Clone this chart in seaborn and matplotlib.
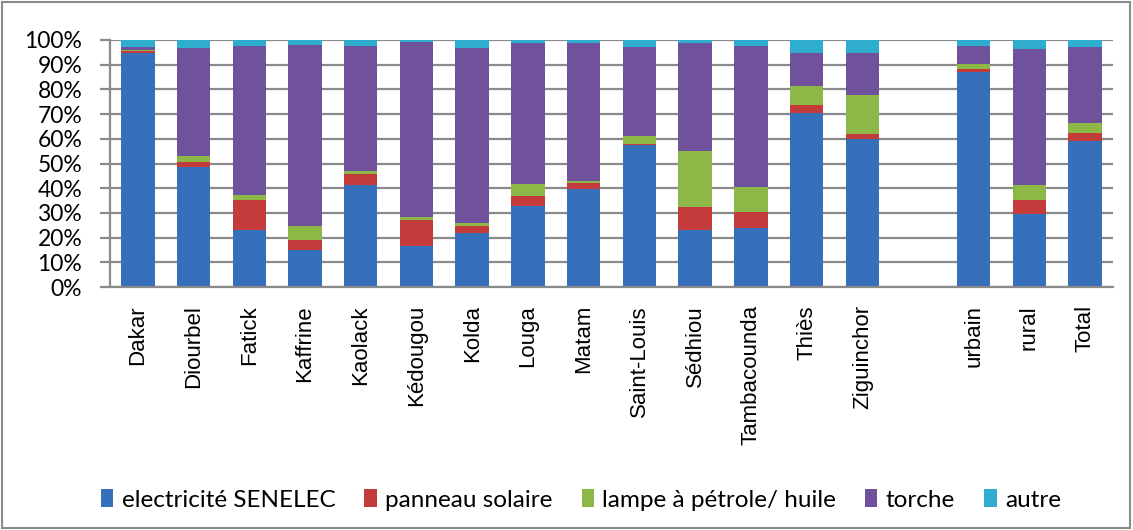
import numpy as np
import pandas as pd
import matplotlib
matplotlib.use("Agg")
import matplotlib.pyplot as plt
import seaborn as sns
from matplotlib.patches import Patch, Rectangle
from matplotlib.ticker import PercentFormatter

# categories (empty slot between regions and urbain/rural/Total)
regions = ['Dakar', 'Diourbel', 'Fatick', 'Kaffrine', 'Kaolack', 'Kédougou', 'Kolda',
           'Louga', 'Matam', 'Saint-Louis', 'Sédhiou', 'Tambacounda', 'Thiès', 'Ziguinchor',
           'urbain', 'rural', 'Total']
order = regions[:14] + [''] + regions[14:]

# shares in % per source
electricite = [94.9, 48.6, 23.0, 14.9, 41.2, 16.5, 21.8, 32.7, 39.6, 57.4, 23.0, 23.8, 70.4, 59.9, 87.2, 29.6, 59.1]
panneau = [0.7, 2.1, 12.1, 4.2, 4.7, 10.5, 2.8, 4.2, 2.4, 0.6, 9.3, 6.5, 3.2, 2.0, 0.9, 5.7, 3.2]
lampe = [0.5, 2.3, 2.1, 5.5, 1.0, 1.2, 1.2, 4.7, 0.8, 3.1, 22.7, 10.1, 7.8, 15.8, 2.2, 5.9, 4.1]
torche = [0.9, 43.9, 60.5, 73.4, 50.8, 71.1, 71.1, 57.2, 56.0, 36.1, 43.8, 57.3, 13.3, 17.0, 7.4, 55.2, 30.8]
autre = [3.0, 3.1, 2.3, 2.0, 2.3, 0.7, 3.1, 1.2, 1.2, 2.8, 1.2, 2.3, 5.3, 5.3, 2.3, 3.6, 2.8]

series = ['electricité SENELEC', 'panneau solaire', 'lampe à pétrole/ huile', 'torche', 'autre']
colors = ['#3670BA', '#C43B3B', '#8DB848', '#6F519C', '#2FADCF']

df = pd.DataFrame({'region': regions, series[0]: electricite, series[1]: panneau,
                   series[2]: lampe, series[3]: torche, series[4]: autre})
# normalise to 100 and cumulate for stacking
vals = df[series]
vals = vals.div(vals.sum(axis=1), axis=0) * 100
cum = vals.cumsum(axis=1)
cum['region'] = df['region']

fig = plt.figure(figsize=(11.33, 5.30), dpi=100)
ax = fig.add_axes([110 / 1133, 1 - 287 / 530, (1113 - 110) / 1133, (287 - 40) / 530])

grid_col = '#8A8A8A'
ax.set_axisbelow(True)
ax.yaxis.grid(True, color=grid_col, linewidth=1.6)

# draw tallest stack first so shorter ones cover it
for s, c in reversed(list(zip(series, colors))):
    sns.barplot(data=cum, x='region', y=s, order=order, color=c, width=0.6,
                saturation=1, ax=ax, edgecolor='none', linewidth=0)

ax.set_ylim(0, 100)
ax.set_yticks(np.arange(0, 101, 10))
ax.yaxis.set_major_formatter(PercentFormatter(decimals=0))
ax.set_xlabel('')
ax.set_ylabel('')
for side in ['top', 'right']:
    ax.spines[side].set_visible(False)
for side in ['left', 'bottom']:
    ax.spines[side].set_color(grid_col)
    ax.spines[side].set_linewidth(1.6)
ax.tick_params(axis='y', length=7, width=1.6, color=grid_col, labelsize=16.5, pad=13)
ax.tick_params(axis='x', length=0, labelsize=16, pad=13)
for lab in ax.get_yticklabels():
    lab.set_family(['Lato', 'DejaVu Sans'])
for lab in ax.get_xticklabels():
    lab.set_rotation(90)
    lab.set_family(['Liberation Sans', 'DejaVu Sans'])

handles = [Patch(facecolor=c, edgecolor='none') for c in colors]
fig.legend(handles, series, loc='center', bbox_to_anchor=(581 / 1133, 1 - 500 / 530),
           ncol=5, frameon=False, prop={'family': ['Lato', 'DejaVu Sans'], 'size': 17.5},
           handlelength=0.5, handleheight=0.7, handletextpad=0.35, columnspacing=1.2)

# outer chart border
fig.patches.append(Rectangle((0.002, 0.003), 0.995, 0.993, transform=fig.transFigure,
                             fill=False, edgecolor='#8A8A8A', linewidth=1.5))

fig.savefig('out.png', dpi=100)
